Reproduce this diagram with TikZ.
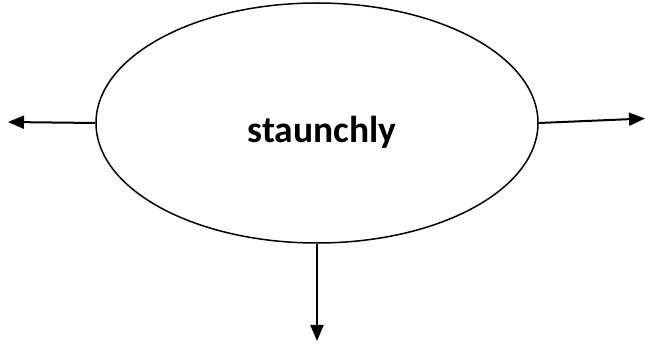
\documentclass[tikz,border=0pt]{standalone}
\usepackage{fontspec}
\setmainfont{Carlito}
\usetikzlibrary{arrows.meta,shapes.geometric}
\begin{document}
\begin{tikzpicture}[x=1pt,y=-1pt,
  conn/.style={line width=2pt,-{Triangle[length=16pt,width=13pt]}},
  ell/.style={draw,line width=1.5pt,ellipse,minimum width=442pt,minimum height=240pt,inner sep=0pt}]
\useasboundingbox (0,0) rectangle (645,344);
\node[ell] (e) at (317,123) {};
\node[font=\fontsize{37.5}{44}\selectfont\bfseries,anchor=base,inner sep=0pt] (t) at (322,143) {staunchly};
\coordinate (l) at (8,122);
\coordinate (r) at (645,118.5);
\coordinate (b) at (317,341);
\draw[conn] (e.west) -- (l);
\draw[conn] (e.east) -- (r);
\draw[conn] (e.south) -- (b);
\end{tikzpicture}
\end{document}
